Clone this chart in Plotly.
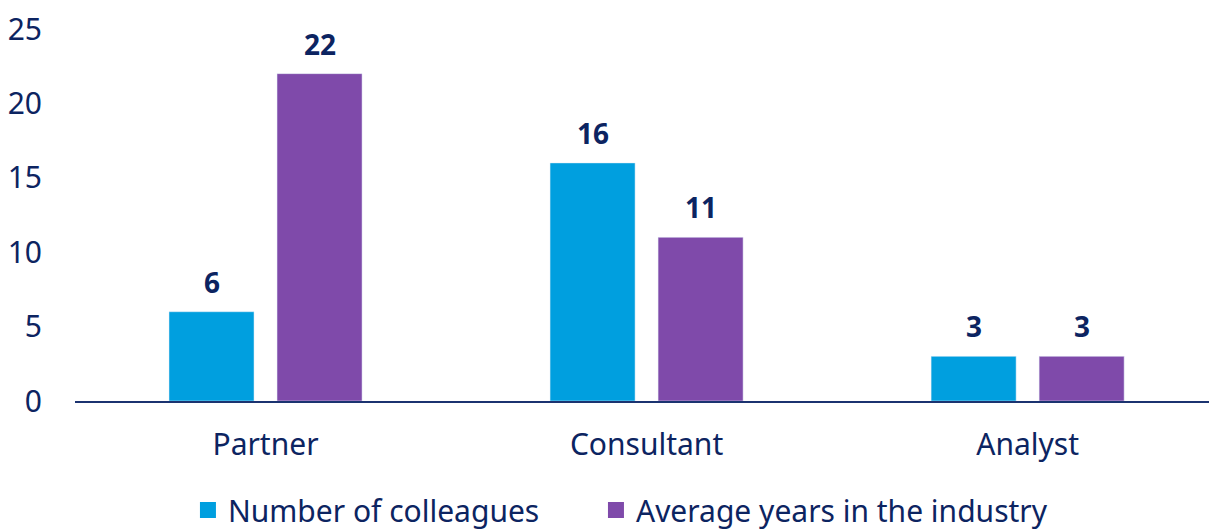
import plotly.graph_objects as go

categories = ["Partner", "Consultant", "Analyst"]
colleagues = [6, 16, 3]
avg_years = [22, 11, 3]
y_ticks = [0, 5, 10, 15, 20, 25]

NAVY = "#0c2461"
BLUE = "#009fdf"
PURPLE = "#7f4aaa"
FONT = "Noto Sans"

fig = go.Figure()
fig.add_trace(go.Bar(x=categories, y=colleagues, name="Number of colleagues",
                     marker_color=BLUE, showlegend=False))
fig.add_trace(go.Bar(x=categories, y=avg_years, name="Average years in the industry",
                     marker_color=PURPLE, showlegend=False))

# legend entries with larger square swatches, one legend each for placement
fig.add_trace(go.Scatter(x=[None], y=[None], mode="markers", name="Number of colleagues",
                         marker=dict(symbol="square", size=19, color=BLUE), legend="legend"))
fig.add_trace(go.Scatter(x=[None], y=[None], mode="markers", name="Average years in the industry",
                         marker=dict(symbol="square", size=19, color=PURPLE), legend="legend2"))

# value labels above bars
for vals, shift in [(colleagues, -54), (avg_years, 54)]:
    for c, v in zip(categories, vals):
        fig.add_annotation(x=c, y=v, text=f"<b>{v}</b>", showarrow=False,
                           xshift=shift, yshift=30, yanchor="middle",
                           font=dict(family=FONT, size=28, color=NAVY))

leg = dict(orientation="h", xanchor="left", y=-0.293, yanchor="middle",
           font=dict(size=30, color=NAVY), itemsizing="trace", bgcolor="rgba(0,0,0,0)")

fig.update_layout(
    width=1209, height=529,
    margin=dict(l=75, r=0, t=29, b=128, autoexpand=False),
    paper_bgcolor="white", plot_bgcolor="white",
    barmode="group", bargap=0.433, bargroupgap=0.213,
    font=dict(family=FONT, size=30, color=NAVY),
    legend=dict(leg, x=0.0996),
    legend2=dict(leg, x=0.4594),
)
fig.update_xaxes(range=[-0.5, 2.476], showline=True, linecolor="#1b3370", linewidth=2,
                 showgrid=False, ticks="", ticklabelstandoff=16, automargin=False,
                 tickfont=dict(size=30, color=NAVY))
fig.update_yaxes(range=[0, 25], tickvals=y_ticks, showgrid=False, zeroline=False,
                 showline=False, ticks="", ticklabelstandoff=32, automargin=False,
                 tickfont=dict(size=30, color=NAVY))

fig.write_html("out.html", config={"displayModeBar": False},
               post_script="document.body.style.margin='0';")
